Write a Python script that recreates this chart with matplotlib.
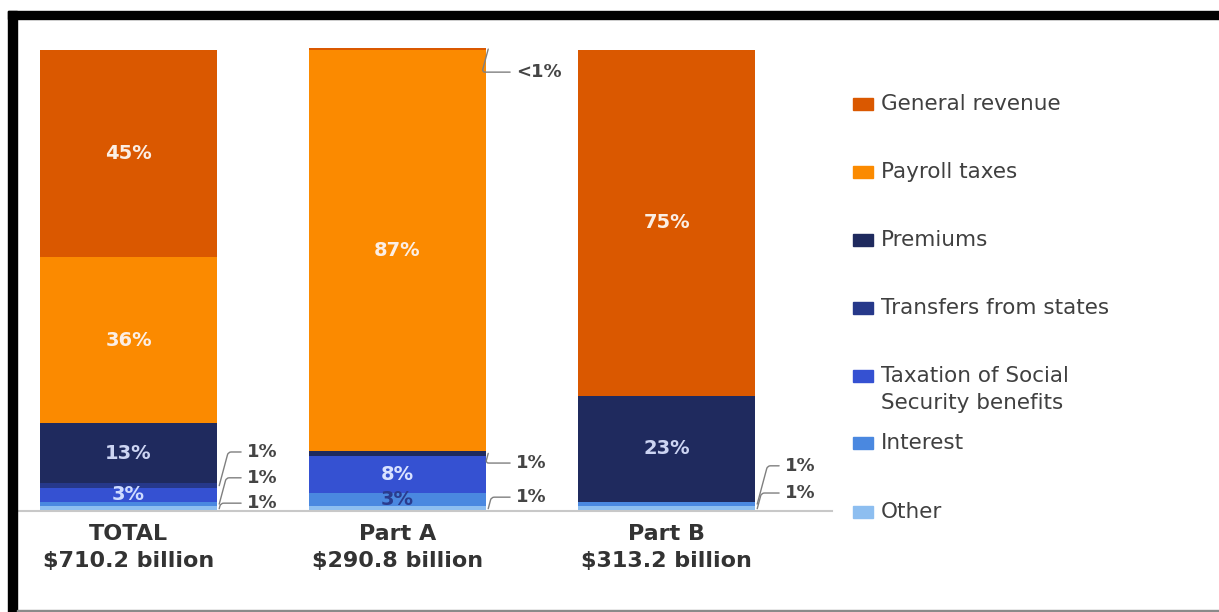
import matplotlib
matplotlib.use('Agg')
import matplotlib.pyplot as plt
from matplotlib.patches import Rectangle
import numpy as np

plt.rcParams['font.family'] = ['DejaVu Sans']

# bar groups (bottom of the stack first in each series list)
groups = ['TOTAL\n$710.2 billion', 'Part A\n$290.8 billion', 'Part B\n$313.2 billion']
sources = ['Other', 'Interest', 'Taxation of Social\nSecurity benefits',
           'Transfers from states', 'Premiums', 'Payroll taxes', 'General revenue']
other = [1, 1, 1]
interest = [1, 3, 1]
taxation = [3, 8, 0]
transfers = [1, 0, 0]
premiums = [13, 1, 23]
payroll = [36, 87, 0]
general = [45, 0.4, 75]
series = [other, interest, taxation, transfers, premiums, payroll, general]
colors = ['#8dbef0', '#4a88e0', '#3551d2', '#26388a', '#1f2a5e', '#fb8a00', '#da5800']

# in-bar labels: (group, series index, text, colour)
inner = [(0, 6, '45%', '#fbeee4'), (0, 5, '36%', '#fbeee4'), (0, 4, '13%', '#ccd4f2'),
         (0, 2, '3%', '#cfdcff'),
         (1, 5, '87%', '#fbeee4'), (1, 2, '8%', '#d9e2ff'), (1, 1, '3%', '#2a3c8e'),
         (2, 6, '75%', '#fbeee4'), (2, 4, '23%', '#ccd4f2')]
# side callouts: (group, series index, text, label y)
callouts = [(0, 3, '1%', 12.8), (0, 1, '1%', 7.2), (0, 0, '1%', 1.7),
            (1, 6, '<1%', 95.2), (1, 4, '1%', 10.4), (1, 0, '1%', 3.0),
            (2, 1, '1%', 9.8), (2, 0, '1%', 3.9)]

fig = plt.figure(figsize=(12.19, 6.12), dpi=100)
ax = fig.add_axes([18 / 1219, 101 / 612, 814 / 1219, 461 / 612])

x = np.arange(len(groups))
width = 0.658
bottom = np.zeros(len(groups))
bottoms = []
for vals, c in zip(series, colors):
    vals = np.array(vals, dtype=float)
    bottoms.append(bottom.copy())
    ax.bar(x, vals, width, bottom=bottom, color=c, edgecolor='none', clip_on=False)
    bottom += vals

for g, s, txt, col in inner:
    y = bottoms[s][g] + series[s][g] / 2
    ax.text(x[g], y, txt, ha='center', va='center', color=col,
            fontsize=14, fontweight='bold')

for g, s, txt, ly in callouts:
    edge = x[g] + width / 2
    y = bottoms[s][g] + series[s][g] / 2
    ax.annotate(txt, xy=(edge + 0.008, y), xytext=(edge + 0.11, ly),
                ha='left', va='center', fontsize=13, color='#454545',
                fontweight='bold',
                arrowprops=dict(arrowstyle='-', color='#7f7f7f', lw=1,
                                shrinkA=2, shrinkB=0,
                                connectionstyle='angle,angleA=0,angleB=75,rad=3'),
                annotation_clip=False)

ax.set_xlim(-0.411, 2.615)
ax.set_ylim(0, 100)
ax.set_xticks(x)
ax.set_xticklabels(groups, fontsize=16, fontweight='bold', color='#333333',
                   linespacing=1.5)
ax.tick_params(axis='x', length=0, pad=9)
ax.set_yticks([])
for sp in ['top', 'right', 'left']:
    ax.spines[sp].set_visible(False)
ax.spines['bottom'].set_color('#c8c8c8')
ax.spines['bottom'].set_linewidth(1.5)

# legend, top entry first
W, H = 1219, 612
ly = [104, 172, 240, 308, 376, 443, 512]
for name, c, yy in zip(sources[::-1], colors[::-1], ly):
    fig.add_artist(Rectangle((853 / W, (H - yy - 6) / H), 20 / W, 12 / H,
                             transform=fig.transFigure, color=c))
    if '\n' in name:
        fig.text(881 / W, (H - yy + 10) / H, name, ha='left', va='top',
                 fontsize=15.5, color='#404040', linespacing=1.45,
                 transform=fig.transFigure)
    else:
        fig.text(881 / W, (H - yy) / H, name, ha='left', va='center',
                 fontsize=15.5, color='#404040', transform=fig.transFigure)

# frame
fig.add_artist(Rectangle((8 / W, (H - 19) / H), 1 - 8 / W, 8 / H,
                         transform=fig.transFigure, color='black'))
fig.add_artist(Rectangle((8 / W, 0), 9 / W, (H - 11) / H,
                         transform=fig.transFigure, color='black'))
fig.add_artist(Rectangle((17 / W, 0), 1 - 17 / W, 2.5 / H,
                         transform=fig.transFigure, color='#8a8a8a'))

fig.savefig('out.png', dpi=100)
